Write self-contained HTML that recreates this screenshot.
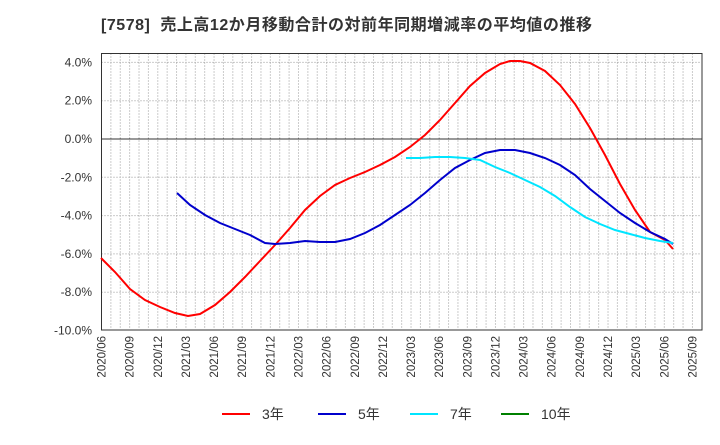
<!DOCTYPE html><html><head><meta charset="utf-8"><style>body{margin:0;background:#fff;width:720px;height:440px;overflow:hidden}svg{font-family:"Liberation Sans","Noto Sans CJK JP",sans-serif}</style></head><body>
<svg width="720" height="440" xmlns="http://www.w3.org/2000/svg">
<text x="101" y="30" font-size="16" font-weight="bold" fill="#333" style="white-space:pre" textLength="491">[7578]  売上高12か月移動合計の対前年同期増減率の平均値の推移</text>
<g id="grid" stroke="#999" stroke-dasharray="1,2" stroke-width="1"></g>
<rect x="101.5" y="53.5" width="600.5" height="276.5" fill="none" stroke="#333"/>
<line x1="101.5" y1="139" x2="702" y2="139" stroke="#333"/>
<g id="yl" font-size="12" fill="#333" text-anchor="end"></g>
<g id="xl" font-size="11.5" fill="#333" text-anchor="end"></g>
<g fill="none" stroke-width="2">
<polyline stroke="#ff0000" points="101,258 115,272 130,289 145,300 160,307 175,313 188,316 200,314 215,305 230,292 245,277 260,261 275,245 290,228 305,210 320,196 335,185 350,178 365,172 380,165 395,157 410,147 425,135 440,120 455,103 470,86 485,73 500,64 510,61 520,61 530,63 545,71 560,85 575,104 590,128 605,155 620,184 635,210 650,232 665,240 673,249"/>
<polyline stroke="#0000cc" points="177,193 190,205 205,215 220,223 235,229 250,235 265,243 275,244 290,243 305,241 320,242 335,242 350,239 365,233 380,225 395,215 410,205 425,193 440,180 455,168 470,160 485,153 500,150 515,150 530,153 545,158 560,165 575,175 590,189 605,201 620,213 635,223 650,232 665,239 673,244"/>
<polyline stroke="#00e5ff" points="406,158 420,158 435,157 450,157 465,158 480,160 495,167 510,173 525,180 540,187 555,196 570,207 585,217 600,224 615,230 630,234 645,238 660,241 673,243"/>
</g>
<g font-size="14" fill="#333">
<line x1="222" y1="414" x2="250" y2="414" stroke="#ff0000" stroke-width="2"/><text x="262" y="419">3年</text>
<line x1="318" y1="414" x2="346" y2="414" stroke="#0000cc" stroke-width="2"/><text x="358" y="419">5年</text>
<line x1="410" y1="414" x2="438" y2="414" stroke="#00e5ff" stroke-width="2"/><text x="450" y="419">7年</text>
<line x1="501" y1="414" x2="529" y2="414" stroke="#008000" stroke-width="2"/><text x="541" y="419">10年</text>
</g>
<script>
var ns="http://www.w3.org/2000/svg",g=document.getElementById('grid'),yl=document.getElementById('yl'),xl=document.getElementById('xl');
function el(p,t,a){var e=document.createElementNS(ns,t);for(var k in a)e.setAttribute(k,a[k]);p.appendChild(e);return e;}
for(var m=1;m<=64;m++){var x=101.5+m*9.38;if(x>701)break;el(g,'line',{x1:x,y1:53.5,x2:x,y2:330});}
for(var v=4;v>=-10;v-=2){var y=139-v*19.15;if(v!=0&&v!=-10)el(g,'line',{x1:101.5,y1:y,x2:702,y2:y});var t=el(yl,'text',{x:92,y:y+4});t.textContent=v.toFixed(1)+'%';}
var ys=2020,mo=6;for(var i=0;i<22;i++){var x=101.5+i*3*9.38;var t=el(xl,'text',{transform:'translate('+(x+4)+',336) rotate(-90)'});t.textContent=ys+'/'+(mo<10?'0':'')+mo;mo+=3;if(mo>12){mo-=12;ys++;}}
</script>
</svg></body></html>
